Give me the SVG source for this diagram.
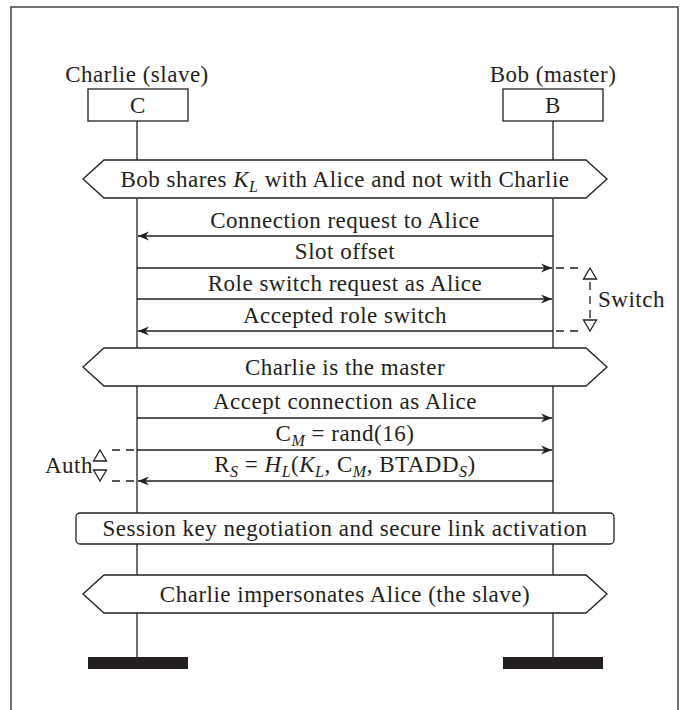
<svg xmlns="http://www.w3.org/2000/svg" width="681" height="710" viewBox="0 0 681 710">
<style>
text{font-family:"Liberation Serif","DejaVu Serif",serif;font-size:23px;letter-spacing:0.5px;fill:#231f20}
.c{text-anchor:middle}
.ln{stroke:#231f20;stroke-width:1.3;fill:none}
.box{stroke:#231f20;stroke-width:1.3;fill:#fff}
.dash{stroke:#231f20;stroke-width:1.3;fill:none;stroke-dasharray:8,6}
.tri{stroke:#231f20;stroke-width:1.3;fill:#fff}
.it{font-style:italic}
.sub{font-size:16px}
</style>
<defs>
<marker id="ah" markerUnits="userSpaceOnUse" markerWidth="14" markerHeight="12" viewBox="-12 -6 14 12" refX="0" refY="0" orient="auto">
<path d="M0,0 L-11,-4.5 L-7.5,0 L-11,4.5 Z" fill="#231f20"/>
</marker>
</defs>
<rect x="11" y="7" width="667" height="730" fill="none" stroke="#444" stroke-width="1.5"/>
<g id="lifelines">
<line class="ln" x1="137" y1="121" x2="137" y2="658"/>
<line class="ln" x1="553" y1="121" x2="553" y2="658"/>
</g>
<g id="charlie">
<text class="c" x="137" y="82">Charlie (slave)</text>
<rect class="box" x="88" y="89" width="100" height="32"/>
<text class="c" x="138" y="113">C</text>
<rect x="88" y="657" width="100" height="12" fill="#231f20"/>
</g>
<g id="bob">
<text class="c" x="553" y="82">Bob (master)</text>
<rect class="box" x="503" y="89" width="100" height="32"/>
<text class="c" x="553" y="113">B</text>
<rect x="503" y="657" width="100" height="12" fill="#231f20"/>
</g>
<g id="connectors">
<line class="ln" x1="553" y1="236" x2="138" y2="236" marker-end="url(#ah)"/>
<line class="ln" x1="137" y1="268" x2="552" y2="268" marker-end="url(#ah)"/>
<line class="ln" x1="137" y1="299" x2="552" y2="299" marker-end="url(#ah)"/>
<line class="ln" x1="553" y1="331" x2="138" y2="331" marker-end="url(#ah)"/>
<line class="ln" x1="137" y1="418" x2="552" y2="418" marker-end="url(#ah)"/>
<line class="ln" x1="137" y1="450" x2="552" y2="450" marker-end="url(#ah)"/>
<line class="ln" x1="553" y1="481" x2="138" y2="481" marker-end="url(#ah)"/>
</g>
<g id="labels">
<text class="c" x="345" y="228">Connection request to Alice</text>
<text class="c" x="345" y="259">Slot offset</text>
<text class="c" x="345" y="291">Role switch request as Alice</text>
<text class="c" x="345" y="323">Accepted role switch</text>
<text class="c" x="345" y="409">Accept connection as Alice</text>
<text class="c" x="345" y="441">C<tspan class="it sub" dy="5">M</tspan><tspan dy="-5"> = rand(16)</tspan></text>
<text class="c" x="345" y="472">R<tspan class="it sub" dy="5">S</tspan><tspan dy="-5"> = </tspan><tspan class="it">H</tspan><tspan class="it sub" dy="5">L</tspan><tspan dy="-5">(</tspan><tspan class="it">K</tspan><tspan class="it sub" dy="5">L</tspan><tspan dy="-5">, C</tspan><tspan class="it sub" dy="5">M</tspan><tspan dy="-5">, BTADD</tspan><tspan class="it sub" dy="5">S</tspan><tspan dy="-5">)</tspan></text>
</g>
<g id="switch">
<line class="dash" x1="556" y1="268" x2="584" y2="268"/>
<line class="dash" x1="556" y1="331" x2="584" y2="331"/>
<line class="dash" x1="590" y1="282" x2="590" y2="318" stroke-dasharray="7,6"/>
<polygon class="tri" points="590,268 583.5,279 596.5,279"/>
<polygon class="tri" points="590,331 583.5,320 596.5,320"/>
<text x="598" y="307">Switch</text>
</g>
<g id="auth">
<line class="dash" x1="134" y1="450" x2="108" y2="450"/>
<line class="dash" x1="134" y1="481" x2="108" y2="481"/>
<polygon class="tri" points="100,450 93.5,461 106.5,461"/>
<polygon class="tri" points="100,481 93.5,470 106.5,470"/>
<text x="93" y="473" text-anchor="end">Auth</text>
</g>
<g id="hex1">
<polygon class="box" points="83,179 104,160 586,160 607,179 586,198 104,198"/>
<text class="c" x="345" y="187">Bob shares <tspan class="it">K</tspan><tspan class="it sub" dy="5">L</tspan><tspan dy="-5"> with Alice and not with Charlie</tspan></text>
</g>
<g id="hex2">
<polygon class="box" points="83,367 104,348 586,348 607,367 586,386 104,386"/>
<text class="c" x="345" y="375">Charlie is the master</text>
</g>
<g id="session">
<rect class="box" x="76" y="513" width="538" height="31" rx="4"/>
<text class="c" x="345" y="536">Session key negotiation and secure link activation</text>
</g>
<g id="hex3">
<polygon class="box" points="83,594 104,575 586,575 607,594 586,613 104,613"/>
<text class="c" x="345" y="602">Charlie impersonates Alice (the slave)</text>
</g>
</svg>
